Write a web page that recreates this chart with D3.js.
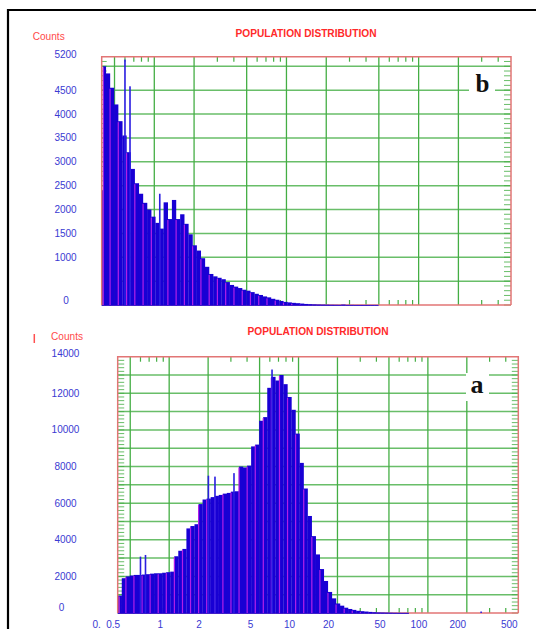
<html>
<head>
<meta charset="utf-8">
<script src="https://d3js.org/d3.v7.min.js"></script>
<style>
  body { margin: 0; background: #fff; }
  text { font-family: "Liberation Sans", Arial, sans-serif; }
</style>
</head>
<body>
<script>
// lower edge of every size bin (last value closes the last bin)
var sizes = [0.400, 0.410, 0.430, 0.462, 0.496, 0.533, 0.573, 0.616, 0.662, 0.711,
  0.764, 0.821, 0.882, 0.948, 1.019, 1.095, 1.176, 1.265, 1.359, 1.460,
  1.569, 1.686, 1.812, 1.947, 2.093, 2.249, 2.416, 2.597, 2.790, 2.998,
  3.222, 3.462, 3.721, 4.00, 4.30, 4.62, 4.96, 5.33, 5.73, 6.16,
  6.62, 7.11, 7.64, 8.21, 8.82, 9.48, 10.19, 10.95, 11.76, 12.65,
  13.59, 14.60, 15.69, 16.86, 18.12, 19.47, 20.93, 22.49, 24.16, 25.97,
  27.90, 29.98, 32.22, 34.62, 37.21, 40.0, 43.0, 46.2, 49.6, 53.3,
  57.3, 61.6, 66.2, 71.1];

// panel b (top)
var countsB = [2400, 5000, 4850, 4550, 4200, 3850, 3550, 3200, 2850, 2550,
  2330, 2140, 2000, 1850, 1720, 1600, 2150, 1800, 2200, 1800,
  1900, 1700, 1480, 1250, 1140, 980, 800, 650, 600, 570,
  540, 480, 420, 385, 355, 320, 300, 270, 235, 210,
  180, 160, 130, 110, 85, 65, 55, 45, 38, 30,
  22, 18, 15, 12, 10, 8, 6, 5, 4, 10,
  3, 3, 2, 2, 2, 2, 2, 2, 0, 0,
  0, 0, 0];
var spikeSizesB = [0.600, 0.655, 1.10];
var spikeCountsB = [5140, 4580, 2330];

// panel a (bottom)
var countsA = [950, 950, 1900, 2000, 2050, 2080, 2080, 2100, 2120, 2150,
  2170, 2170, 2200, 2230, 2260, 3100, 3400, 3500, 4620, 4750,
  4850, 5950, 6200, 6250, 6330, 6400, 6450, 6520, 6560, 6630,
  6650, 8000, 7950, 8050, 9100, 9200, 10500, 10700, 12300, 12900,
  12700, 13000, 12500, 11800, 11100, 9800, 8200, 6800, 5300, 4200,
  3200, 2400, 1750, 1150, 800, 520, 400, 290, 220, 170,
  120, 100, 80, 60, 45, 35, 30, 25, 20, 15,
  12, 10, 10];
var spikeSizesA = [0.600, 0.656, 2.01, 2.26, 3.17, 6.24, 258];
var spikeCountsA = [3080, 3170, 7500, 7450, 7640, 13300, 80];

// axes
var xGrid = [0.5, 1, 2, 5, 10, 20, 50, 100, 200];
var xMinor = [0.6, 0.7, 0.8, 0.9, 3, 4, 6, 7, 8, 9, 30, 40, 60, 70, 80, 90, 300, 400];
var xLabelVals = [0.5, 1, 2, 5, 10, 20, 50, 100, 200, 500];
var xLabels = ["0.5", "1", "2", "5", "10", "20", "50", "100", "200", "500"];
var yGridB = [500, 1000, 1500, 2000, 2500, 3000, 3500, 4000, 4500, 5000];
var yLabelsB = [0, 1000, 1500, 2000, 2500, 3000, 3500, 4000, 4500, 5200];
var yGridA = [1000, 2000, 3000, 4000, 5000, 6000, 7000, 8000, 9000, 10000, 11000, 12000, 13000];
var yLabelsA = [0, 2000, 4000, 6000, 8000, 10000, 12000, 14000];

var green = "#44ae44";
var frameRed = "#e27575";
var blue = "#1800d4";
var magenta = "#b21ee8";

var svg = d3.select("body").append("svg").attr("width", 536).attr("height", 629);

// black frame of the figure
svg.append("line").attr("x1", 7).attr("x2", 536).attr("y1", 10).attr("y2", 10)
  .attr("stroke", "#000").attr("stroke-width", 2);
svg.append("line").attr("x1", 8).attr("x2", 8).attr("y1", 9).attr("y2", 629)
  .attr("stroke", "#000").attr("stroke-width", 2.2);

function panel(p) {
  var x = d3.scaleLog().domain([0.4, 500]).range([p.x0, p.x1]);
  var y = d3.scaleLinear().domain([0, p.ymax]).range([p.y1, p.y0]);
  var g = svg.append("g");

  // grid
  g.selectAll(".hg").data(p.grid).enter().append("line")
    .attr("x1", p.x0).attr("x2", p.x1)
    .attr("y1", function(d){ return y(d); }).attr("y2", function(d){ return y(d); })
    .attr("stroke", green).attr("stroke-width", 1.5).attr("opacity", 0.8);
  g.selectAll(".vg").data(xGrid).enter().append("line")
    .attr("x1", function(d){ return x(d); }).attr("x2", function(d){ return x(d); })
    .attr("y1", p.y0).attr("y2", p.y1)
    .attr("stroke", green).attr("stroke-width", 1.3);

  // minor ticks inside the frame
  var minorY = d3.range(0, p.ymax, p.minorStep);
  g.selectAll(".ml").data(minorY).enter().append("line")
    .attr("x1", p.x0).attr("x2", p.x0 + p.tickL)
    .attr("y1", function(d){ return y(d); }).attr("y2", function(d){ return y(d); })
    .attr("stroke", green).attr("stroke-width", 1).attr("opacity", 0.8);
  g.selectAll(".mr").data(minorY).enter().append("line")
    .attr("x1", p.x1 - p.tickR).attr("x2", p.x1)
    .attr("y1", function(d){ return y(d); }).attr("y2", function(d){ return y(d); })
    .attr("stroke", green).attr("stroke-width", 1).attr("opacity", 0.8);
  g.selectAll(".mt").data(xMinor).enter().append("line")
    .attr("x1", function(d){ return x(d); }).attr("x2", function(d){ return x(d); })
    .attr("y1", p.y0).attr("y2", p.y0 + 5)
    .attr("stroke", green).attr("stroke-width", 1.2);
  g.selectAll(".mb").data(xMinor).enter().append("line")
    .attr("x1", function(d){ return x(d); }).attr("x2", function(d){ return x(d); })
    .attr("y1", p.y1 - 5).attr("y2", p.y1)
    .attr("stroke", green).attr("stroke-width", 1.2);

  // bottom edge of the frame sits under the bars
  g.append("line").attr("x1", p.x0).attr("x2", p.x1).attr("y1", p.y1).attr("y2", p.y1)
    .attr("stroke", frameRed).attr("stroke-width", 1.5);

  var bins = p.counts.map(function(c, i){ return {lo: sizes[i], hi: sizes[i + 1], n: c, i: i}; })
    .filter(function(d){ return d.n > 0; });

  g.selectAll(".bar").data(bins).enter().append("rect")
    .attr("x", function(d){ return x(d.lo); })
    .attr("width", function(d){ return x(d.hi) - x(d.lo) + 0.2; })
    .attr("y", function(d){ return y(d.n); })
    .attr("height", function(d){ return y(0) - y(d.n) + 0.8; })
    .attr("fill", blue);

  // magenta bin markers
  g.selectAll(".mk").data(bins.filter(function(d){ return d.i % 2 == 1; })).enter().append("rect")
    .attr("x", function(d){ return x(d.lo) - 0.5; })
    .attr("width", 1.2)
    .attr("y", function(d){ return y(d.n) + 1; })
    .attr("height", function(d){ return y(0) - y(d.n) - 1; })
    .attr("fill", magenta);

  // single-channel spikes
  g.selectAll(".sp").data(p.spikeSizes).enter().append("rect")
    .attr("x", function(d){ return x(d) - 0.8; })
    .attr("width", 1.6)
    .attr("y", function(d, i){ return y(p.spikeCounts[i]); })
    .attr("height", function(d, i){ return y(0) - y(p.spikeCounts[i]); })
    .attr("fill", "#2a1ee0");

  // frame
  g.append("path")
    .attr("d", "M" + p.x0 + "," + p.y1 + "V" + p.y0 + "H" + p.x1 + "V" + p.y1)
    .attr("fill", "none").attr("stroke", frameRed).attr("stroke-width", 1.5);

  // panel letter
  g.append("rect").attr("x", p.box[0]).attr("y", p.box[1]).attr("width", p.box[2]).attr("height", p.box[3])
    .attr("fill", "#fff");
  g.append("text").attr("x", p.letterX).attr("y", p.letterY)
    .style("font-family", "'Liberation Serif', 'DejaVu Serif', serif")
    .style("font-weight", "bold").style("font-size", p.letterSize + "px")
    .attr("fill", "#111").text(p.letter);

  // y labels
  g.selectAll(".yl").data(p.yLabels).enter().append("text")
    .attr("x", function(d){ return d == 0 ? p.zeroX : 65.5; })
    .attr("y", function(d, i){
      var off = 0;
      if (d == 0) off = p.zeroUp;
      if (i == p.yLabels.length - 1) off = p.topUp;
      return y(d) + off;
    })
    .attr("dy", "0.35em").attr("text-anchor", "middle")
    .style("font-size", "10px").attr("fill", "#3a3ad2")
    .text(function(d){ return d; });

  // title and axis name
  g.append("text").attr("x", p.titleX).attr("y", p.titleY).attr("text-anchor", "middle")
    .style("font-size", "10.5px").style("font-weight", "bold").attr("fill", "#ff2a2a")
    .attr("textLength", 141).attr("lengthAdjust", "spacingAndGlyphs")
    .text("POPULATION DISTRIBUTION");
  g.append("text").attr("x", p.countsX).attr("y", p.countsY)
    .style("font-size", "11px").attr("fill", "#ff4a4a")
    .attr("textLength", 32).attr("lengthAdjust", "spacingAndGlyphs")
    .text("Counts");

  return x;
}

panel({
  x0: 101.7, x1: 511, y0: 56.7, y1: 305, ymax: 5200,
  grid: yGridB, yLabels: yLabelsB, minorStep: 100, tickL: 5, tickR: 7,
  counts: countsB, spikeSizes: spikeSizesB, spikeCounts: spikeCountsB,
  box: [469, 70, 26, 30], letter: "b", letterX: 475.5, letterY: 92, letterSize: 25,
  zeroX: 66, zeroUp: -5, topUp: -2.5,
  titleX: 306, titleY: 37, countsX: 32.7, countsY: 40
});

var xA = panel({
  x0: 117.7, x1: 518.3, y0: 356.7, y1: 613, ymax: 14000,
  grid: yGridA, yLabels: yLabelsA, minorStep: 200, tickL: 6.5, tickR: 6.5,
  counts: countsA, spikeSizes: spikeSizesA, spikeCounts: spikeCountsA,
  box: [466, 373, 23, 28], letter: "a", letterX: 470.5, letterY: 393, letterSize: 26,
  zeroX: 61.5, zeroUp: -6, topUp: -3.5,
  titleX: 318, titleY: 335, countsX: 51, countsY: 340
});

// small red mark next to the lower "Counts"
svg.append("line").attr("x1", 34.3).attr("x2", 34.3).attr("y1", 334).attr("y2", 343)
  .attr("stroke", "#ff5050").attr("stroke-width", 1.5);

// size labels under panel a
svg.selectAll(".xl").data(xLabelVals).enter().append("text")
  .attr("x", function(d){ return d == 0.5 ? xA(d) - 17 : xA(d) - 9; })
  .attr("y", 627.5).attr("text-anchor", "middle")
  .style("font-size", "10px").attr("fill", "#3a3ad2")
  .text(function(d, i){ return xLabels[i]; });
svg.append("text").attr("x", xA(0.4) - 21).attr("y", 627.5).attr("text-anchor", "middle")
  .style("font-size", "10px").attr("fill", "#3a3ad2").text("0.");
</script>
</body>
</html>
